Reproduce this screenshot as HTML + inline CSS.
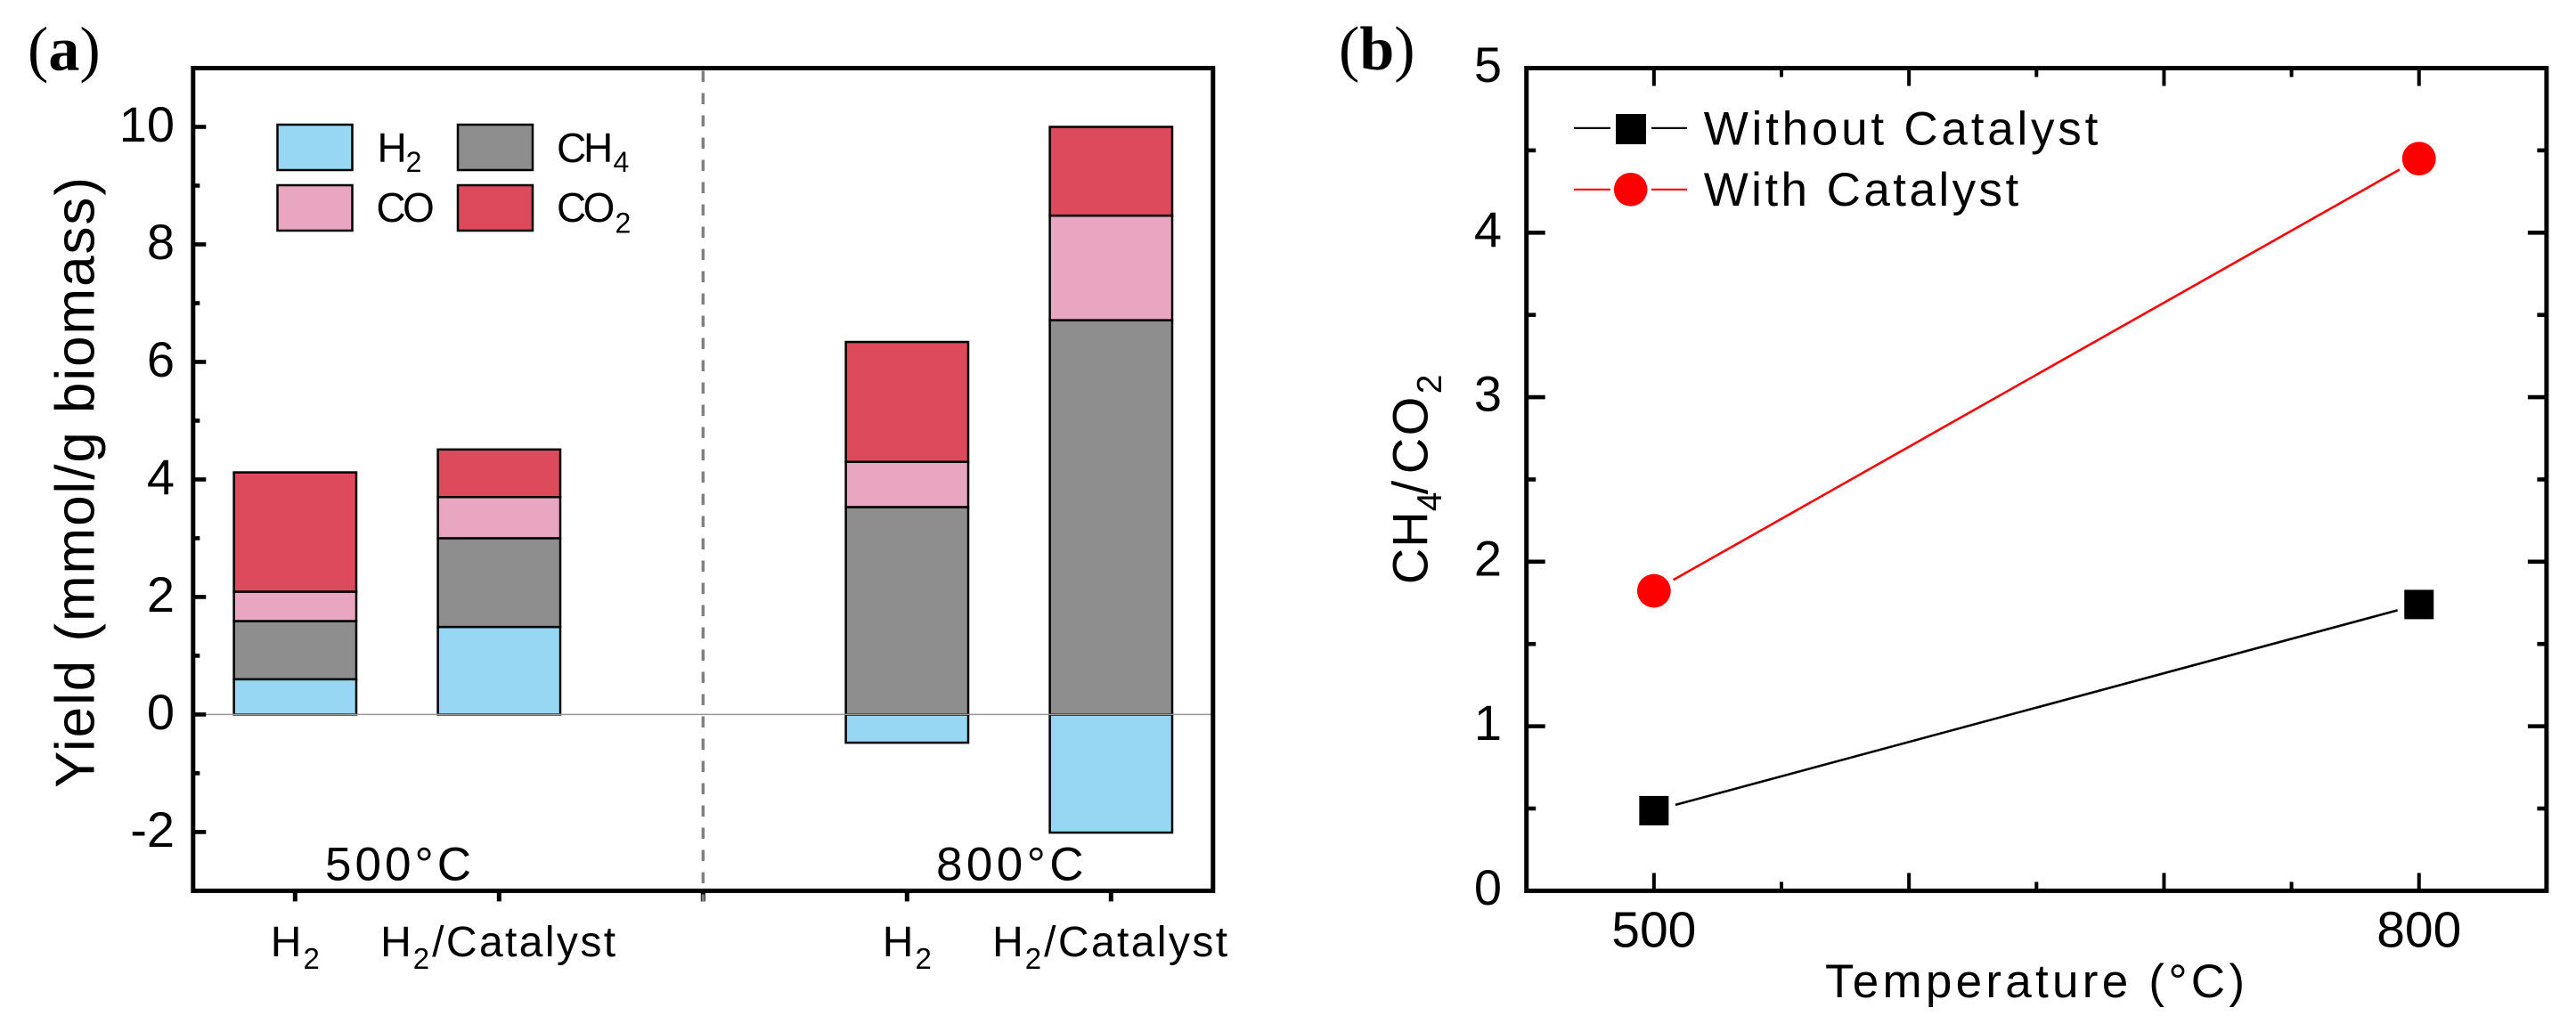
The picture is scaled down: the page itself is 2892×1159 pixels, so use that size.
<!DOCTYPE html>
<html lang="en">
<head>
<meta charset="utf-8">
<title>Yield and CH4/CO2 ratio charts</title>
<style>
html,body{margin:0;padding:0;background:#fff;width:2892px;height:1159px;overflow:hidden}
svg{display:block}
text{font-family:"Liberation Sans",sans-serif;fill:#000}
.serif{font-family:"Liberation Serif",serif}
</style>
</head>
<body>
<svg id="figure" xmlns="http://www.w3.org/2000/svg" width="2892" height="1159" viewBox="0 0 2892 1159">
  <rect width="2892" height="1159" fill="#fff"/>

  <text class="serif" x="31" y="78.5" font-size="70">(<tspan font-weight="bold">a</tspan>)</text>
  <text class="serif" x="1503" y="78" font-size="70">(<tspan font-weight="bold">b</tspan>)</text>

  <g id="panel-a"></g>
  <g id="panel-b"></g>

  <text transform="translate(105.6,885) rotate(-90)" font-size="62" textLength="686" lengthAdjust="spacing">Yield (mmol/g biomass)</text>
  <text x="365" y="988.6" font-size="53" textLength="164" lengthAdjust="spacing">500°C</text>
  <text x="1051" y="988.6" font-size="53" textLength="165.5" lengthAdjust="spacing">800°C</text>

  <g>
    <g>
      <rect x="311.5" y="140" width="84" height="51" fill="#97D7F3" stroke="#000" stroke-width="2.5"/>
      <text font-size="46"><tspan x="423.5" y="181.8">H</tspan><tspan x="455.6" y="193" font-size="32">2</tspan></text>
    </g>
    <g>
      <rect x="514" y="140" width="84" height="51" fill="#8E8E8E" stroke="#000" stroke-width="2.5"/>
      <text font-size="46"><tspan x="625 655" y="181.8">CH</tspan><tspan x="688.5" y="193" font-size="32">4</tspan></text>
    </g>
    <g>
      <rect x="311.5" y="208" width="84" height="51" fill="#E9A6C1" stroke="#000" stroke-width="2.5"/>
      <text font-size="46"><tspan x="422.4 452" y="248.8">CO</tspan></text>
    </g>
    <g>
      <rect x="514" y="208" width="84" height="51" fill="#DD4A5C" stroke="#000" stroke-width="2.5"/>
      <text font-size="46"><tspan x="625 654.5" y="248.8">CO</tspan><tspan x="690.5" y="261.4" font-size="32">2</tspan></text>
    </g>
  </g>

  <text transform="translate(1602.4,656.3) rotate(-90)" font-size="56"><tspan x="0 41.5" y="0">CH</tspan><tspan x="82" y="15.4" font-size="39">4</tspan><tspan x="101 124 167" y="0">/CO</tspan><tspan x="214" y="15.4" font-size="39">2</tspan></text>
  <text x="2049" y="1119.8" font-size="53" textLength="471" lengthAdjust="spacing">Temperature (°C)</text>

  <g>
    <g>
      <line x1="1767" x2="1808" y1="143.9" y2="143.9" stroke="#000" stroke-width="2.2"/>
      <line x1="1854" x2="1894" y1="143.9" y2="143.9" stroke="#000" stroke-width="2.2"/>
      <rect x="1814" y="128" width="34" height="34" fill="#000"/>
      <text x="1912.7" y="162.6" font-size="53" textLength="442.6" lengthAdjust="spacing">Without Catalyst</text>
    </g>
    <g>
      <line x1="1767" x2="1808" y1="212.8" y2="212.8" stroke="#f00" stroke-width="2.2"/>
      <line x1="1854" x2="1894" y1="212.8" y2="212.8" stroke="#f00" stroke-width="2.2"/>
      <circle cx="1830.7" cy="212.8" r="18.8" fill="#f00"/>
      <text x="1912.7" y="230.8" font-size="53" textLength="353.5" lengthAdjust="spacing">With Catalyst</text>
    </g>
  </g>
</svg>

<script>
// ---- Panel (a) data ----
const barCategories = ['H2', 'H2/Catalyst', '', 'H2', 'H2/Catalyst'];
const h2Values  = [0.60, 1.49, null, -0.48, -2.01];
const ch4Values = [0.99, 1.51, null, 3.53, 6.71];
const coValues  = [0.50, 0.70, null, 0.77, 1.78];
const co2Values = [2.03, 0.81, null, 2.04, 1.51];
const yieldMajorTicks = [-2, 0, 2, 4, 6, 8, 10];
const yieldMinorTicks = [-1, 1, 3, 5, 7, 9];

// ---- Panel (b) data ----
const temperatures = [500, 800];
const withoutCatalyst = [0.487, 1.74];
const withCatalyst = [1.823, 4.45];
const tempMajorTicks = [500, 600, 700, 800];
const tempMinorTicks = [550, 650, 750];
const tempTickLabels = [500, 800];
const ratioMajorTicks = [0, 1, 2, 3, 4, 5];
const ratioMinorTicks = [0.5, 1.5, 2.5, 3.5, 4.5];

const SVG_NS = 'http://www.w3.org/2000/svg';
function mk(tag, attrs, parent) {
  const el = document.createElementNS(SVG_NS, tag);
  for (const k in attrs) el.setAttribute(k, attrs[k]);
  parent.appendChild(el);
  return el;
}

// ---------- Panel (a) ----------
(function () {
  const g = document.getElementById('panel-a');
  const L = 216.8, R = 1361.8, T = 76.5, B = 1000.4;
  const x = function (i) { return L + (i + 0.5) * (R - L) / barCategories.length; };
  const y = function (v) { return B - (v + 3) * (B - T) / 14; };
  const barWidth = 0.6 * (R - L) / barCategories.length;
  const seriesList = [
    { key: 'h2', values: h2Values, color: '#97D7F3' },
    { key: 'ch4', values: ch4Values, color: '#8E8E8E' },
    { key: 'co', values: coValues, color: '#E9A6C1' },
    { key: 'co2', values: co2Values, color: '#DD4A5C' }
  ];

  barCategories.forEach(function (cat, i) {
    let pos = 0;
    seriesList.forEach(function (s) {
      const v = s.values[i];
      if (v === null) return;
      const from = v < 0 ? 0 : pos;
      const to = v < 0 ? v : pos + v;
      if (v >= 0) pos = to;
      const el = mk('rect', {
        x: x(i) - barWidth / 2,
        y: Math.min(y(from), y(to)),
        width: barWidth,
        height: Math.abs(y(to) - y(from)),
        fill: s.color, stroke: '#000', 'stroke-width': 2.5
      }, g);
      
      
    });
  });

  const zero = mk('line', { x1: L, x2: R, y1: y(0), y2: y(0), stroke: '#999', 'stroke-width': 1.5 }, g);
  
  

  const frame = mk('rect', { x: L, y: T, width: R - L, height: B - T, fill: 'none', stroke: '#000', 'stroke-width': 5 }, g);
  
  

  yieldMajorTicks.forEach(function (v) {
    const t = mk('line', { x1: L, x2: L + 14.5, y1: y(v), y2: y(v), stroke: '#000', 'stroke-width': 4.6 }, g);
    
    
    const lab = mk('text', { x: 196, y: y(v) + 16.4, 'font-size': 56, 'text-anchor': 'end' }, g);
    lab.textContent = String(v);
    
    
  });
  yieldMinorTicks.forEach(function (v) {
    const t = mk('line', { x1: L, x2: L + 7.5, y1: y(v), y2: y(v), stroke: '#000', 'stroke-width': 4.6 }, g);
    
    
  });

  barCategories.forEach(function (cat, i) {
    const t = mk('line', { x1: x(i), x2: x(i), y1: B, y2: B + 12, stroke: '#000', 'stroke-width': 5 }, g);
    
    
    if (!cat) return;
    const lab = mk('text', { x: x(i), y: 1074, 'font-size': 48, 'text-anchor': 'middle' }, g);
    
    
    const rest = cat.slice(2);
    mk('tspan', {}, lab).textContent = 'H';
    const sub = mk('tspan', { dx: 2, dy: 14, 'font-size': 33 }, lab);
    sub.textContent = '2';
    if (rest) {
      const more = mk('tspan', { dx: 3, dy: -14, 'letter-spacing': 2.4 }, lab);
      more.textContent = rest;
    }
  });

  const divider = mk('line', {
    x1: x(2), x2: x(2), y1: T - 2, y2: B + 12,
    stroke: '#808080', 'stroke-width': 3.4, 'stroke-dasharray': '12.5 12.5', 'stroke-dashoffset': '-5'
  }, g);
  
  
})();

// ---------- Panel (b) ----------
(function () {
  const g = document.getElementById('panel-b');
  const L = 1713.7, R = 2858.9, T = 76.5, B = 1000.4;
  const x = function (v) { return L + (v - 450) * (R - L) / 400; };
  const y = function (v) { return B - v * (B - T) / 5; };

  const frame = mk('rect', { x: L, y: T, width: R - L, height: B - T, fill: 'none', stroke: '#000', 'stroke-width': 5 }, g);
  
  

  function yTick(v, len, name) {
    const a = mk('line', { x1: L, x2: L + len, y1: y(v), y2: y(v), stroke: '#000', 'stroke-width': 4.6 }, g);
    
    
    const b = mk('line', { x1: R, x2: R - len, y1: y(v), y2: y(v), stroke: '#000', 'stroke-width': 4.6 }, g);
    
    
  }
  function xTick(v, len, name) {
    const a = mk('line', { x1: x(v), x2: x(v), y1: B, y2: B - len, stroke: '#000', 'stroke-width': 4 }, g);
    
    
    const b = mk('line', { x1: x(v), x2: x(v), y1: T, y2: T + len, stroke: '#000', 'stroke-width': 4 }, g);
    
    
  }
  ratioMajorTicks.forEach(function (v) {
    if (v > 0 && v < 5) yTick(v, 21, 'ratio-tick');
    const lab = mk('text', { x: 1686, y: y(v) + 15.5, 'font-size': 56, 'text-anchor': 'end' }, g);
    lab.textContent = String(v);
    
    
  });
  ratioMinorTicks.forEach(function (v) { yTick(v, 10.5, 'ratio-minor-tick'); });
  tempMajorTicks.forEach(function (v) { xTick(v, 20, 'temp-tick'); });
  tempMinorTicks.forEach(function (v) { xTick(v, 10, 'temp-minor-tick'); });
  tempTickLabels.forEach(function (v) {
    const lab = mk('text', { x: x(v), y: 1063.5, 'font-size': 57, 'text-anchor': 'middle' }, g);
    lab.textContent = String(v);
    
    
  });

  function series(values, color, key, marker) {
    const gap = 25;
    for (let i = 0; i + 1 < values.length; i++) {
      const x0 = x(temperatures[i]), y0 = y(values[i]);
      const x1 = x(temperatures[i + 1]), y1 = y(values[i + 1]);
      const d = Math.hypot(x1 - x0, y1 - y0);
      const ux = (x1 - x0) / d, uy = (y1 - y0) / d;
      const seg = mk('line', {
        x1: x0 + ux * gap, y1: y0 + uy * gap,
        x2: x1 - ux * gap, y2: y1 - uy * gap,
        stroke: color, 'stroke-width': 2.6
      }, g);
      
      
    }
    values.forEach(function (v, i) {
      const cx = x(temperatures[i]), cy = y(v);
      let m;
      if (marker === 'square') {
        m = mk('rect', { x: cx - 16.5, y: cy - 16.5, width: 33, height: 33, fill: color }, g);
      } else {
        m = mk('circle', { cx: cx, cy: cy, r: 18.9, fill: color }, g);
      }
      
      
    });
  }
  series(withoutCatalyst, '#000', 'without-catalyst', 'square');
  series(withCatalyst, '#f00', 'with-catalyst', 'circle');
})();
</script>
</body>
</html>
